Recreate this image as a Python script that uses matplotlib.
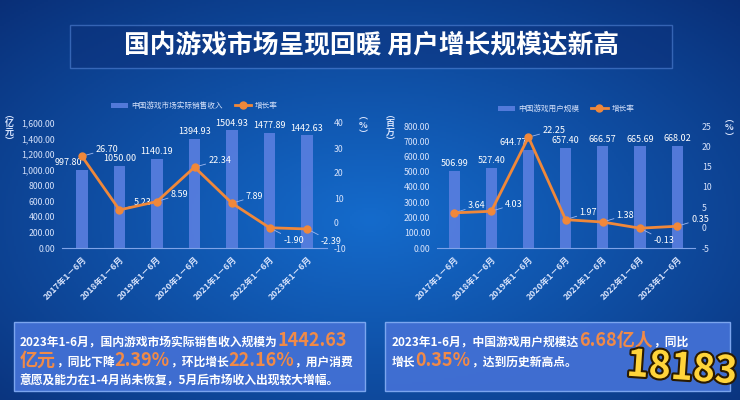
import matplotlib.pyplot as plt
import matplotlib.patheffects as pe
from matplotlib.patches import Rectangle
from matplotlib.ticker import FuncFormatter
import numpy as np

plt.rcParams['font.family'] = ['Noto Sans CJK SC', 'DejaVu Sans']

periods = ['2017年1－6月', '2018年1－6月', '2019年1－6月', '2020年1－6月',
           '2021年1－6月', '2022年1－6月', '2023年1－6月']
revenue = [997.80, 1050.00, 1140.19, 1394.93, 1504.93, 1477.89, 1442.63]
revenue_growth = [26.70, 5.23, 8.59, 22.34, 7.89, -1.90, -2.39]
users = [506.99, 527.40, 644.77, 657.40, 666.57, 665.69, 668.02]
users_growth = [3.64, 4.03, 22.25, 1.97, 1.38, -0.13, 0.35]

BAR = '#5a7fe0'
LINE = '#f0883a'
TXT = '#d6e2fb'
ORANGE = '#f08a48'

W, H = 740, 400
fig = plt.figure(figsize=(W / 100, H / 100), dpi=100)

# backdrop: deep blue, brighter azure towards the middle
bg = fig.add_axes([0, 0, 1, 1])
yy, xx = np.mgrid[0:1:200j, 0:1:370j]
r = np.sqrt(((xx - 0.5) / 0.8) ** 2 + ((yy - 0.55) / 0.85) ** 2)
glow = np.clip(1 - r, 0, 1) ** 0.9
c0 = np.array([0.03, 0.15, 0.42])
c1 = np.array([0.08, 0.42, 0.80])
img = c0 + (c1 - c0) * glow[..., None]
bg.imshow(img, extent=[0, 1, 0, 1], aspect='auto', origin='upper')
bg.set_xlim(0, 1)
bg.set_ylim(0, 1)
bg.axis('off')


def px(x, y):
    return x / W, 1 - y / H


# title banner
bx, by = px(70, 68)
bg.add_patch(Rectangle((bx, by), 602 / W, 43 / H, facecolor='#0d2f78', alpha=0.45,
                       edgecolor='#6a9cf0', lw=1.0))
bg.text(*px(372, 45), '国内游戏市场呈现回暖 用户增长规模达新高', color='white',
        fontsize=18.5, fontweight='bold', ha='center', va='center')


def draw_chart(rect, bars, growth, bar_name, ymax, ystep, gmin, gmax, gstep,
               below_flags, bar_label_dx, xlim):
    ax = fig.add_axes(rect)
    ax.patch.set_alpha(0)
    x = np.arange(len(periods))
    ax.bar(x, bars, width=0.3, color=BAR, alpha=0.9, label=bar_name, zorder=2)
    ax.set_xlim(*xlim)
    ax.set_ylim(0, ymax)
    ax.set_yticks(np.arange(0, ymax + 1, ystep))
    ax.yaxis.set_major_formatter(FuncFormatter(lambda v, p: f'{v:,.2f}'))
    ax.set_xticks(x)
    ax.set_xticklabels(periods, rotation=45, ha='right', rotation_mode='anchor',
                       fontweight='bold')
    for s in ['top', 'left', 'right']:
        ax.spines[s].set_visible(False)
    ax.spines['bottom'].set_color('#7fa3e8')
    ax.tick_params(colors=TXT, labelsize=6.3, length=0, pad=5)
    for xi, v, dx in zip(x, bars, bar_label_dx):
        ax.annotate(f'{v:.2f}', (xi, v), xytext=(dx, 2), textcoords='offset points',
                    ha='center', va='bottom', color='white', fontsize=6.5, zorder=5)

    ax2 = ax.twinx()
    ax2.plot(x, growth, color=LINE, lw=2, marker='o', ms=5, label='增长率', zorder=4)
    ax2.set_ylim(gmin, gmax)
    ax2.set_yticks(np.arange(gmin, gmax + 0.1, gstep))
    ax2.yaxis.set_major_formatter(FuncFormatter(lambda v, p: f'{v:g}'))
    for s in ax2.spines.values():
        s.set_visible(False)
    ax2.tick_params(colors=TXT, labelsize=6.3, length=0, pad=5)
    for xi, g, below in zip(x, growth, below_flags):
        off = (10, -9) if below else (10, 5)
        ax2.annotate(f'{g:.2f}', (xi, g), xytext=off, textcoords='offset points',
                     color='white', fontsize=6.5, va='center', ha='left',
                     arrowprops=dict(arrowstyle='-', color='#9fb8f0', lw=0.6,
                                     shrinkA=0, shrinkB=3))

    h1, l1 = ax.get_legend_handles_labels()
    h2, l2 = ax2.get_legend_handles_labels()
    ax.legend(h1 + h2, l1 + l2, loc='lower center', bbox_to_anchor=(0.5, 1.05),
              ncol=2, frameon=False, fontsize=5.5, labelcolor=TXT,
              handlelength=2.2, columnspacing=1.5, handletextpad=0.5)
    return ax, ax2


draw_chart([62 / W, 0.38, 265 / W, 0.3125], revenue, revenue_growth,
           '中国游戏市场实际销售收入', 1600, 200, -10, 40, 10,
           [False, False, False, False, False, True, True],
           [-10, 0, 0, 0, 0, 0, 0], (-0.53, 6.53))
draw_chart([437 / W, 0.38, 258 / W, 0.305], users, users_growth,
           '中国游戏用户规模', 800, 100, -5, 25, 5,
           [False, False, False, False, False, True, False],
           [0, 0, -11, 0, 0, 0, 0], (-0.46, 6.48))

# unit captions, stacked one glyph per line
for (ux, uy), s in [((9, 128), '︵\n亿\n元\n︶'), ((363, 125), '︵\n%\n︶'),
                    ((390, 128), '︵\n百\n万\n︶'), ((729, 128), '︵\n%\n︶')]:
    bg.text(*px(ux, uy), s, color=TXT, fontsize=6.5, ha='center', va='center',
            linespacing=1.0, fontweight='bold')

# summary panels
for x0, w in [(14, 351), (385, 345)]:
    bg.add_patch(Rectangle(px(x0, 391), w / W, 69 / H, facecolor='#4270d4',
                           edgecolor='#80aaf2', lw=1.0, alpha=0.95))

renderer = fig.canvas.get_renderer()


def runs(x, y, parts):
    fx, fy = px(x, y)
    for s, hi in parts:
        t = bg.text(fx, fy, s, color=ORANGE if hi else 'white',
                    fontsize=13 if hi else 8.5, fontweight='bold',
                    ha='left', va='baseline')
        fx += t.get_window_extent(renderer).width / W


runs(20, 346, [('2023年1-6月，国内游戏市场实际销售收入规模为', False), ('1442.63', True)])
runs(20, 366, [('亿元', True), ('，同比下降', False), ('2.39%', True),
               ('，环比增长', False), ('22.16%', True), ('，用户消费', False)])
runs(20, 385, [('意愿及能力在1-4月尚未恢复，5月后市场收入出现较大增幅。', False)])
runs(392, 346, [('2023年1-6月，中国游戏用户规模达', False), ('6.68亿人', True),
                ('，同比', False)])
runs(392, 366, [('增长', False), ('0.35%', True), ('，达到历史新高点。', False)])

# site badge
bg.text(*px(682, 368), '18183', color='#ffd43a', fontsize=27, fontweight='bold',
        ha='center', va='center', rotation=-4,
        path_effects=[pe.withStroke(linewidth=3, foreground='#2a1a00')])

fig.savefig('out.png', dpi=100)
